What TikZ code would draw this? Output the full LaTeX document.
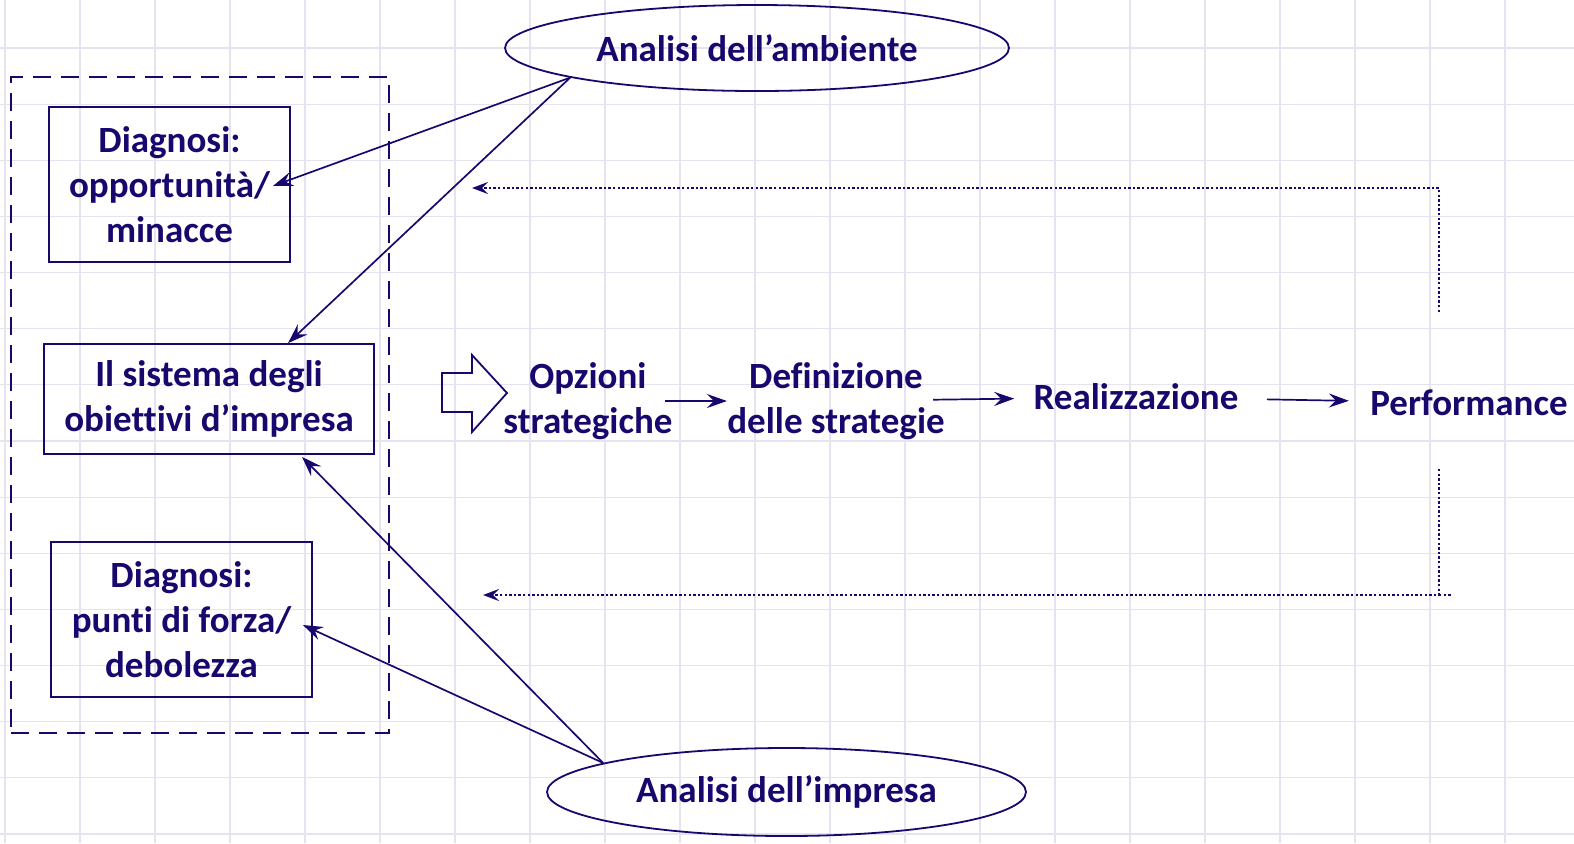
\documentclass[tikz,border=0pt]{standalone}
\usepackage{fontspec}
\setmainfont{Carlito}[Ligatures=NoCommon]
\usepackage{tikz}
\usetikzlibrary{arrows.meta,calc,positioning,shapes.geometric}
\definecolor{navy}{RGB}{24,8,110}
\definecolor{gridc}{RGB}{229,227,239}
\tikzset{
  lbl/.style={font=\fontsize{18.5}{22.5}\selectfont\bfseries,text=navy,align=center,inner sep=0pt},
  diagbox/.style={lbl,draw=navy,line width=0.9pt},
  analisi/.style={lbl,ellipse,draw=navy,line width=0.9pt},
  link/.style={draw=navy,line width=0.85pt,-{Stealth[length=10pt,width=7pt,inset=3.5pt]}},
  feedback/.style={draw=navy,line width=1.2pt,dash pattern=on 1.2pt off 1.1pt,-{Stealth[length=8pt,width=6pt,inset=3pt]}},
  gridline/.style={draw=gridc,line width=0.6pt}
}

\begin{document}
\begin{tikzpicture}[x=0.5pt,y=-0.5pt]
\useasboundingbox (0,0) rectangle (1574,843);
% grid of the slide
\foreach \i in {0,...,20}
  \draw[gridline] (5+75*\i,0) -- (5+75*\i,843);
\foreach \j in {0,...,14}
  \draw[gridline] (0,48+56.14*\j) -- (1574,48+56.14*\j);

% left column
\node (group) [draw=navy,line width=0.9pt,dash pattern=on 9pt off 5pt,minimum width=189pt,minimum height=328pt] at (200,405) {};
\node (opp) [diagbox,minimum width=120.5pt,minimum height=77.5pt] at (169.5,184.5) {Diagnosi:\\opportunità/\\minacce};
\node (obj) [diagbox,minimum width=165pt,minimum height=55pt] at (209,399) {Il sistema degli\\obiettivi d’impresa};
\node (weak) [diagbox,minimum width=130.5pt,minimum height=77.5pt] at (181.5,619.5) {Diagnosi:\\punti di forza/\\debolezza};

% analyses
\node (amb) [analisi,minimum width=252pt,minimum height=43pt] at (757,48) {Analisi dell’ambiente};
\node (imp) [analisi,minimum width=239.5pt,minimum height=44pt] at (786.5,792) {Analisi dell’impresa};

% process
\draw[navy,line width=0.9pt] (442,373) -- (472,373) -- (472,355) -- (507,393)
  -- (472,432) -- (472,412) -- (442,412) -- cycle;
\node (opz) [lbl] at (588,401) {Opzioni\\strategiche};
\node (def) [lbl] at (836,401) {Definizione\\delle strategie};
\node (real) [lbl] at (1136,397) {Realizzazione};
\node (perf) [lbl] at (1469,403) {Performance};

\path[every edge/.style=link]
(opz) edge[shorten <=-4pt] (def)
(def) edge[shorten <=-6pt,shorten >=9.5pt] (real)
(real) edge[shorten <=14pt,shorten >=10.5pt] (perf);

% feedback loops
\coordinate (fbtop) at (1439,312);
\coordinate (fbbot) at (1439,469);
\coordinate (tipA) at (472,188);
\coordinate (tipB) at (483,595);
\draw[feedback] (fbtop) |- (tipA);
\draw[feedback] (fbbot) |- (tipB);
\draw[feedback,-] (fbbot |- tipB) -- ++(13,0);

% influences
\path[every edge/.style=link]
(amb.189) edge ([xshift=-9pt,yshift=-0.75pt]opp.east)
(amb.189) edge ([xshift=39.5pt]obj.north)
(imp.171) edge ([xshift=46.5pt,yshift=-1pt]obj.south)
(imp.171) edge ([xshift=-5pt,yshift=-2.75pt]weak.east);
\end{tikzpicture}
\end{document}
